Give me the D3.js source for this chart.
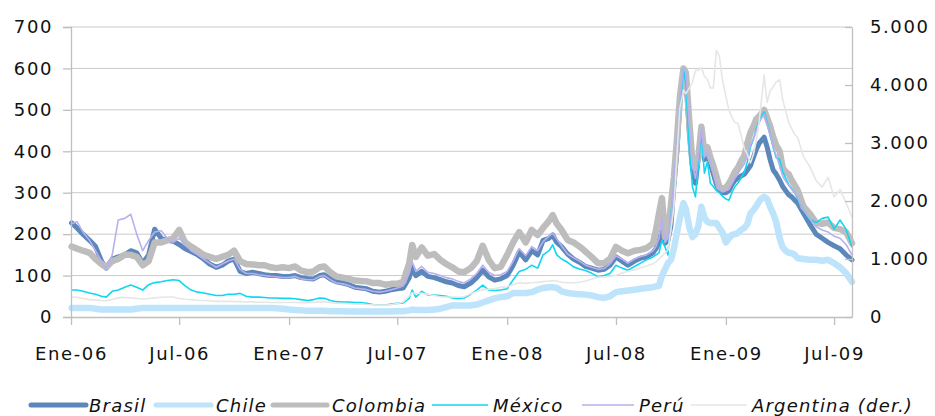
<!DOCTYPE html>
<html>
<head>
<meta charset="utf-8">
<script src="https://cdn.jsdelivr.net/npm/d3@7"></script>
<style>
  html,body{margin:0;padding:0;background:#fff;}
  svg{display:block;}
</style>
</head>
<body>
<svg id="chart" width="935" height="416"></svg>
<script>
// ---------------- DATA ----------------
const dates = [
"2006-01-02","2006-01-11","2006-01-21","2006-02-01","2006-02-11","2006-02-21","2006-03-01","2006-03-11","2006-03-21",
"2006-04-01","2006-04-11","2006-04-21","2006-05-01","2006-05-11","2006-05-21","2006-06-01","2006-06-11","2006-06-21",
"2006-07-01","2006-07-11","2006-07-21","2006-08-01","2006-08-11","2006-08-21","2006-09-01","2006-09-11","2006-09-21",
"2006-10-01","2006-10-11","2006-10-21","2006-11-01","2006-11-11","2006-11-21","2006-12-01","2006-12-11","2006-12-21",
"2007-01-01","2007-01-11","2007-01-21","2007-02-01","2007-02-11","2007-02-21","2007-03-01","2007-03-11","2007-03-21",
"2007-04-01","2007-04-11","2007-04-21","2007-05-01","2007-05-11","2007-05-21","2007-06-01","2007-06-11","2007-06-21",
"2007-07-01","2007-07-11","2007-07-21","2007-07-26",
"2007-08-01","2007-08-11","2007-08-21","2007-09-01","2007-09-11","2007-09-21","2007-10-01","2007-10-11","2007-10-21",
"2007-11-01","2007-11-11","2007-11-21","2007-12-01","2007-12-11","2007-12-21",
"2008-01-01","2008-01-11","2008-01-21","2008-02-01","2008-02-11","2008-02-21",
"2008-03-01","2008-03-11","2008-03-17","2008-03-24",
"2008-04-01","2008-04-11","2008-04-21","2008-05-01","2008-05-11","2008-05-21","2008-06-01","2008-06-11","2008-06-21",
"2008-07-01","2008-07-11","2008-07-21","2008-08-01","2008-08-11","2008-08-21",
"2008-09-01","2008-09-06","2008-09-11","2008-09-16","2008-09-21","2008-09-26",
"2008-10-01","2008-10-06","2008-10-11","2008-10-16","2008-10-22","2008-10-26",
"2008-11-01","2008-11-06","2008-11-11","2008-11-16","2008-11-21","2008-11-26",
"2008-12-01","2008-12-06","2008-12-11","2008-12-16","2008-12-21","2008-12-26",
"2009-01-01","2009-01-06","2009-01-11","2009-01-16","2009-01-21","2009-01-26",
"2009-02-01","2009-02-06","2009-02-11","2009-02-16","2009-02-21","2009-02-26",
"2009-03-01","2009-03-06","2009-03-11","2009-03-16","2009-03-21","2009-03-26",
"2009-04-01","2009-04-06","2009-04-11","2009-04-16","2009-04-21","2009-04-26",
"2009-05-01","2009-05-11","2009-05-21","2009-06-01","2009-06-11","2009-06-21",
"2009-07-01","2009-07-11","2009-07-21","2009-07-31"
];

const brasil = [
227,215,200, 185,170,135, 118,140,145, 150,160,155, 130,150,212, 190,185,183, 175,165,158, 150,140,128, 120,125,135, 140,110,105, 108,105,102, 100,100,98,
98,100,95, 93,92,100, 102,92,85, 82,78,72, 70,68,62, 60,62,66,
68,70,95,121,
100,110,98, 95,90,85, 82,76,73, 82,95,113, 97,89,92,
100,125,157, 138,160,150,
185,190,198,180,
170,152,140, 132,122,118, 113,115,125, 145,135,125, 135,142,145,
155,165,180,210,178,185,
220,320,400,520,600,580,
440,360,323,386,451,380,
395,370,345,320,306,300,
300,305,320,330,335,340,
345,355,365,385,405,420,
425,434,410,380,355,345,
330,315,305,295,290,282,
275,250,225, 200,190,180,
172,165,150,138
];

const chile = [
22,22,22, 22,20,18, 18,18,18, 18,18,20, 22,22,22, 22,22,22, 22,22,22, 22,22,22, 22,22,22, 22,22,22, 22,22,22, 22,21,20,
18,17,16, 15,15,15, 15,14,14, 14,13,13, 13,13,13, 13,13,13,
14,14,16,18,
17,17,17, 18,20,24, 28,28,28, 28,30,35, 40,45,48,
50,58,58, 58,60,66,
70,72,72,70,
62,58,56, 55,54,52, 48,46,50, 60,62,64, 66,68,70,
72,74,75,100,115,130,
138,165,203,240,275,260,
215,193,200,220,266,240,
230,227,227,227,215,205,
180,190,198,200,203,210,
215,225,250,258,268,280,
285,290,285,266,250,230,
190,168,160,155,154,150,
142,140,138, 138,136,138,
130,120,106,85
];

const colombia = [
170,165,160, 155,140,128, 120,135,140, 150,150,145, 125,135,180, 180,185,190, 210,180,170, 160,150,145, 140,145,150, 160,135,128, 127,125,125, 120,118,120,
118,122,112, 108,110,120, 122,108,98, 95,92,88, 87,86,82, 82,78,80,
80,85,130,174,
145,168,148, 152,138,128, 120,110,108, 118,135,172, 138,118,121,
150,180,205, 180,210,198,
215,232,246,225,
210,186,180, 170,158,145, 130,130,140, 169,160,154, 160,162,166,
178,210,250,287,193,200,
270,338,427,531,600,590,
468,372,360,386,459,395,
410,385,365,340,314,310,
312,322,335,350,360,375,
390,420,445,460,478,485,
490,500,480,460,435,415,
400,360,350,345,330,318,
306,266,250, 227,225,228,
215,212,205,178
];

const mexico = [
65,65,62, 58,55,50, 48,62,65, 72,77,72, 65,78,83, 85,88,90, 88,75,65, 60,58,55, 52,52,55, 55,57,50, 48,48,47, 46,46,45,
45,44,42, 40,42,46, 45,40,37, 36,36,35, 35,33,30, 29,29,31,
33,34,45,65,
48,62,53, 53,52,50, 46,45,46, 55,65,77, 65,64,65,
68,90,110, 115,125,118,
150,160,174,150,
140,132,121, 116,112,106, 97,100,105, 125,118,113, 122,130,138,
145,150,155,186,169,150,
250,314,410,500,600,560,
400,314,290,370,444,347,
375,323,315,305,300,292,
285,282,300,315,323,335,
350,375,410,430,455,475,
485,495,470,440,410,385,
380,350,335,320,310,300,
285,258,236, 228,238,241,
212,234,212,169
];

const peru = [
225,230,205, 185,160,135, 115,150,234, 238,248,200, 160,185,205, 208,190,180, 190,175,160, 150,140,130, 120,128,135, 140,115,105, 105,102,100, 98,97,95,
95,98,92, 90,90,98, 100,90,82, 80,76,70, 68,66,62, 60,62,66,
70,75,105,133,
110,122,108, 105,100,95, 92,86,82, 92,105,125, 108,100,102,
110,135,165, 148,170,160,
182,195,202,188,
172,152,143, 135,125,120, 115,117,128, 148,140,130, 140,146,150,
160,170,190,240,180,190,
240,330,420,530,600,590,
455,365,335,388,455,385,
400,375,350,325,308,302,
305,308,322,335,345,358,
370,390,415,430,450,470,
478,490,465,440,410,390,
365,340,328,318,308,300,
290,258,238, 218,210,205,
195,190,175,150
];

// Argentina, right axis
const argentina = [
345,340,320, 300,295,285, 280,300,330, 335,330,320, 310,320,330, 340,345,345, 320,305,300, 290,285,280, 270,270,270, 265,265,260, 260,255,255, 250,250,250,
250,250,245, 245,250,260, 260,250,240, 235,230,225, 220,215,210, 205,205,215,
230,260,360,420,
400,410,390, 370,350,345, 345,340,350, 400,440,470, 480,490,510,
520,560,590, 580,590,600,
610,620,630,620,
600,590,590, 600,620,650, 690,690,700, 720,760,790, 810,850,880,
920,950,1000,1050,1100,1150,
1500,1900,2800,3600,3914,3850,
3950,4050,4250,4250,4300,4150,
4100,3950,3950,4600,4500,4100,
3800,3570,3450,3350,3345,3150,
2900,2800,2655,2800,3050,3400,
3700,4170,3700,3900,3970,4050,
4090,3750,3550,3350,3250,3150,
3100,2760,2600, 2350,2240,2410,
2070,2200,1970,1720
];

const seriesNames = ["Brasil","Chile","Colombia","México","Perú","Argentina (der.)"];
const leftTicks = [0,100,200,300,400,500,600,700];
const rightTicks = [0,1000,2000,3000,4000,5000];
const rightTickLabels = ["0","1.000","2.000","3.000","4.000","5.000"];
const xTickDates = ["2006-01-01","2006-07-01","2007-01-01","2007-07-01","2008-01-01","2008-07-01","2009-01-01","2009-07-01"];
const xTickLabels = ["Ene-06","Jul-06","Ene-07","Jul-07","Ene-08","Jul-08","Ene-09","Jul-09"];

// ---------------- CHART ----------------
const parse = d3.timeParse("%Y-%m-%d");
const svg = d3.select("#chart");
const L = 71, R = 852, T = 27, B = 317;

const x = d3.scaleTime().domain([parse("2006-01-01"), parse("2009-07-31")]).range([L, R]);
const yL = d3.scaleLinear().domain([0, 700]).range([B, T]);
const yR = d3.scaleLinear().domain([0, 5000]).range([B, T]);

const axisColor = "#bfbfbf";
const font = "'DejaVu Sans', Verdana, sans-serif";

// gridlines
svg.append("g").selectAll("line").data(leftTicks.filter(d => d > 0)).join("line")
  .attr("x1", L).attr("x2", R)
  .attr("y1", d => yL(d)).attr("y2", d => yL(d))
  .attr("stroke", "#cacaca").attr("stroke-width", 1);

// series
const series = [
  {name: seriesNames[0], values: brasil,    color: "#5b87bb", width: 5,   axis: "L"},
  {name: seriesNames[1], values: chile,     color: "#bde4fb", width: 6.5, axis: "L"},
  {name: seriesNames[2], values: colombia,  color: "#bdbdbd", width: 6.5, axis: "L"},
  {name: seriesNames[3], values: mexico,    color: "#10d6f0", width: 1.6, axis: "L"},
  {name: seriesNames[4], values: peru,      color: "#b8b0ee", width: 1.6, axis: "L"},
  {name: seriesNames[5], values: argentina, color: "#e6e6e6", width: 1.6, axis: "R"}
];

const pDates = dates.map(parse);
const gLines = svg.append("g");
series.forEach(s => {
  const yS = s.axis === "L" ? yL : yR;
  const line = d3.line().x((d, i) => x(pDates[i])).y(d => yS(d));
  gLines.append("path")
    .datum(s.values)
    .attr("d", line)
    .attr("fill", "none")
    .attr("stroke", s.color)
    .attr("stroke-width", s.width)
    .attr("stroke-linejoin", "round")
    .attr("stroke-linecap", "round");
});

function styleAxis(g) {
  g.select(".domain").attr("stroke", axisColor).attr("stroke-width", 1.3);
  g.selectAll(".tick line").attr("stroke", axisColor).attr("stroke-width", 1.3);
  g.selectAll(".tick text").attr("fill", "#111").style("font-family", font)
    .style("font-size", "18px").style("letter-spacing", "1.6px");
}

// left axis
svg.append("g").attr("transform", `translate(${L},0)`)
  .call(d3.axisLeft(yL).tickValues(leftTicks).tickSize(8).tickPadding(10).tickFormat(d3.format("d")))
  .call(styleAxis);

// right axis
svg.append("g").attr("transform", `translate(${R},0)`)
  .call(d3.axisRight(yR).tickValues(rightTicks).tickSizeInner(-7).tickSizeOuter(0).tickPadding(18)
    .tickFormat((d, i) => rightTickLabels[i]))
  .call(styleAxis);

// x axis
svg.append("g").attr("transform", `translate(0,${B})`)
  .call(d3.axisBottom(x).tickValues(xTickDates.map(parse)).tickSize(8).tickSizeOuter(0).tickPadding(22)
    .tickFormat((d, i) => xTickLabels[i]))
  .call(styleAxis);

// legend
const legendPos = [
  {x1: 31, x2: 86, tx: 89},
  {x1: 156, x2: 211, tx: 216},
  {x1: 273, x2: 327, tx: 332},
  {x1: 432, x2: 488, tx: 493},
  {x1: 582, x2: 634, tx: 639},
  {x1: 691, x2: 747, tx: 752}
];
const lg = svg.append("g");
series.forEach((s, i) => {
  const p = legendPos[i];
  const ly = 405;
  lg.append("line").attr("x1", p.x1).attr("x2", p.x2).attr("y1", ly).attr("y2", ly)
    .attr("stroke", s.color).attr("stroke-width", Math.min(Math.max(s.width, 1.6), 5))
    .attr("stroke-linecap", s.width > 3 ? "round" : "butt");
  lg.append("text").attr("x", p.tx).attr("y", ly + 6.5)
    .text(s.name)
    .attr("fill", "#111")
    .style("font-family", font).style("font-style", "italic")
    .style("font-size", "18px").style("letter-spacing", "1.2px");
});
</script>
</body>
</html>
